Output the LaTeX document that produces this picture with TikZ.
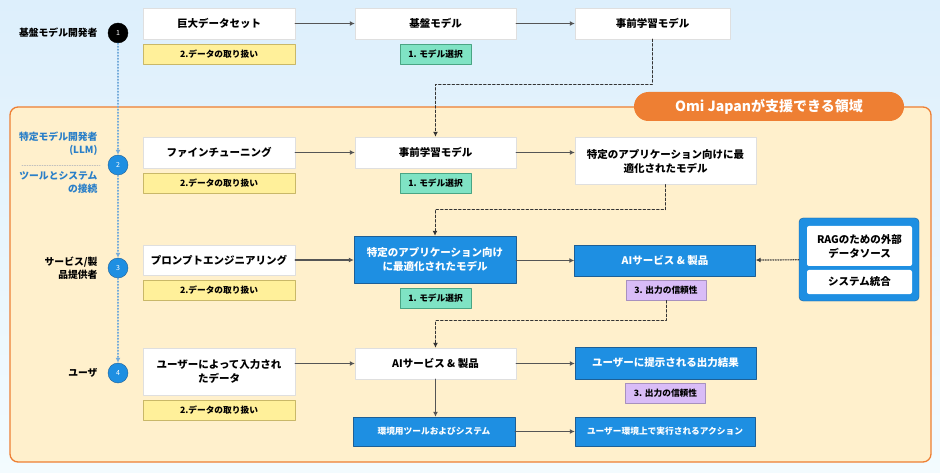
\documentclass[tikz,border=0pt]{standalone}
\usepackage{fontspec}
\setmainfont{Noto Sans CJK JP}
\usetikzlibrary{arrows.meta}
\definecolor{bgtop}{HTML}{DDEFFC}
\definecolor{bgbot}{HTML}{F3FBFE}
\definecolor{zone}{HTML}{FFF0CC}
\definecolor{orng}{HTML}{EE7F33}
\definecolor{bblue}{HTML}{1E8FE2}
\definecolor{bedge}{HTML}{1D5F96}
\definecolor{ytag}{HTML}{FFF09A}
\definecolor{yedge}{HTML}{C9B868}
\definecolor{gtag}{HTML}{7FE3C4}
\definecolor{gedge}{HTML}{4AA584}
\definecolor{ptag}{HTML}{D9BCF7}
\definecolor{pedge}{HTML}{A891BE}
\definecolor{lblue}{HTML}{2A7FC8}
\definecolor{conn}{HTML}{555555}

\begin{document}
\begin{tikzpicture}[x=1pt,y=-1pt,line cap=round,line join=round,
  wbox/.style={draw=gray!25,fill=white,inner sep=0pt,align=center,font=\fontsize{10.5}{14}\selectfont\bfseries},
  bbox/.style={draw=bedge,fill=bblue,text=white,inner sep=0pt,align=center,font=\fontsize{10.5}{14}\selectfont\bfseries},
  ytagbox/.style={draw=yedge,fill=ytag,minimum width=152pt,minimum height=20pt,inner sep=0pt,font=\fontsize{8.7}{10}\selectfont\bfseries},
  gtagbox/.style={draw=gedge,fill=gtag,minimum width=71pt,minimum height=20pt,inner sep=0pt,font=\fontsize{8.7}{10}\selectfont\bfseries},
  ptagbox/.style={draw=pedge,fill=ptag,minimum width=80pt,minimum height=20pt,inner sep=0pt,font=\fontsize{8.7}{10}\selectfont\bfseries},
  numdot/.style={circle,draw=bedge,fill=bblue,text=white,minimum size=20pt,inner sep=0pt,font=\fontsize{7}{8}\selectfont},
  rolelbl/.style={anchor=east,align=right,font=\fontsize{9.8}{13}\selectfont\bfseries},
  flow/.style={conn,line width=1.4pt,-{Latex[length=5pt,width=5pt]}},
  dflow/.style={black!80,line width=1pt,dash pattern=on 2.5pt off 2pt,-{Latex[length=5pt,width=5pt]}},
  vflow/.style={lblue!65,line width=1.2pt,dash pattern=on 1pt off 2pt,-{Latex[length=5pt,width=5pt]}}]
  \useasboundingbox (0,0) rectangle (940,473);
  \shade[top color=bgtop,bottom color=bgbot] (0,0) rectangle (940,473);
  \draw[orng,fill=zone,line width=1.3pt,rounded corners=8pt] (10,107) rectangle (931,462);
  \node[fill=orng,text=white,rounded corners=14.5pt,minimum width=270pt,minimum height=29pt,inner sep=0pt,font=\fontsize{14}{16}\selectfont\bfseries] (zonelbl) at (769,106.5) {Omi Japanが支援できる領域};

  \node[wbox,minimum width=152pt,minimum height=31pt] (dataset) at (219,23.5) {巨大データセット};
  \node[ytagbox] (tagA1) at (219,54) {2.データの取り扱い};
  \node[wbox,minimum width=161pt,minimum height=31pt] (base) at (435.5,23.5) {基盤モデル};
  \node[gtagbox] (tagB1) at (435.5,54) {1. モデル選択};
  \node[wbox,minimum width=155pt,minimum height=31pt] (pre1) at (652.5,23.5) {事前学習モデル};

  \node[wbox,minimum width=152pt,minimum height=31pt] (tune) at (219,152.5) {ファインチューニング};
  \node[ytagbox] (tagA2) at (219,183) {2.データの取り扱い};
  \node[wbox,minimum width=161pt,minimum height=31pt] (pre2) at (435.5,152.5) {事前学習モデル};
  \node[gtagbox] (tagB2) at (435.5,183) {1. モデル選択};
  \node[wbox,minimum width=181pt,minimum height=47pt] (opt1) at (665.5,161) {特定のアプリケーション向けに最\\適化されたモデル};

  \node[wbox,minimum width=152pt,minimum height=30pt] (prompt) at (219,260) {プロンプトエンジニアリング};
  \node[ytagbox] (tagA3) at (219,290.5) {2.データの取り扱い};
  \node[bbox,minimum width=162pt,minimum height=47pt] (opt2) at (435,259.5) {特定のアプリケーション向け\\に最適化されたモデル};
  \node[gtagbox] (tagB3) at (435.5,298.5) {1. モデル選択};
  \node[bbox,minimum width=181pt,minimum height=31pt] (ai1) at (665,260.5) {AIサービス \& 製品};
  \node[ptagbox] (tagC3) at (666,290.5) {3. 出力の信頼性};
  \node[draw=bedge,fill=bblue,rounded corners=4pt,minimum width=120pt,minimum height=83pt] (extgrp) at (859,259.5) {};
  \node[wbox,draw=none,rounded corners=2pt,minimum width=105pt,minimum height=40pt] (rag) at (859.5,246) {RAGのための外部\\データソース};
  \node[wbox,draw=none,rounded corners=2pt,minimum width=105pt,minimum height=24pt] (integ) at (859.5,282) {システム統合};

  \node[wbox,minimum width=152pt,minimum height=47pt] (userin) at (219,371.5) {ユーザーによって入力され\\たデータ};
  \node[ytagbox] (tagA4) at (219,410) {2.データの取り扱い};
  \node[wbox,minimum width=161pt,minimum height=31pt] (ai2) at (435.5,363.5) {AIサービス \& 製品};
  \node[bbox,minimum width=181pt,minimum height=32pt] (result) at (665.5,363) {ユーザーに提示される出力結果};
  \node[ptagbox] (tagC4) at (665.5,393.5) {3. 出力の信頼性};
  \node[bbox,minimum width=162pt,minimum height=29pt,font=\fontsize{8.7}{10}\selectfont\bfseries] (tools) at (434,431.5) {環境用ツールおよびシステム};
  \node[bbox,minimum width=180pt,minimum height=29pt,font=\fontsize{8.7}{10}\selectfont\bfseries] (action) at (665,431.5) {ユーザー環境上で実行されるアクション};

  \node[numdot,draw=black,fill=black] (n1) at (118,33) {1};
  \node[numdot] (n2) at (118,165) {2};
  \node[numdot] (n3) at (118,268) {3};
  \node[numdot] (n4) at (118,373) {4};
  \node[rolelbl] (role1) at (101,33) {基盤モデル開発者};
  \node[rolelbl,text=lblue] (role2a) at (101,143.5) {特定モデル開発者\\(LLM)};
  \node[rolelbl,text=lblue] (role2b) at (101,182.5) {ツールとシステム\\の接続};
  \node[rolelbl] (role3) at (101,268.5) {サービス/製\\品提供者};
  \node[rolelbl] (role4) at (101,373) {ユーザ};
  \draw[gray!50,line width=0.6pt,dash pattern=on 1pt off 1.5pt] (22,165) -- (100,165);

  \draw[vflow] (n1) -- (n2);
  \draw[vflow] (n2) -- (n3);
  \draw[vflow] (n3) -- (n4);

  \draw[flow] (dataset) -- (base);
  \draw[flow] (base) -- (pre1);
  \draw[flow] (tune) -- (pre2);
  \draw[flow] (pre2.east) -- (opt1.west |- pre2.east);
  \draw[flow] (prompt.east) -- (opt2.west |- prompt.east);
  \draw[flow] (opt2.east |- ai1) -- (ai1);
  \draw[flow] (userin.east |- ai2) -- (ai2);
  \draw[flow] (ai2) -- (result.west |- ai2);
  \draw[flow] (ai2.south) -- (ai2.south |- tools.north);
  \draw[flow] (tools) -- (action);
  \draw[dflow] (pre1.south) -- ++(0,45) -| (pre2.north);
  \draw[dflow] (opt1.south) -- ++(0,25) -| (opt2.north);
  \draw[dflow] (tagC3.south) -- ++(0,20) -| (ai2.north);
  \draw[black!75,line width=1.2pt,dash pattern=on 1pt off 1.5pt,-{Latex[length=5pt,width=5pt]}] (extgrp) -- (ai1);
\end{tikzpicture}
\end{document}
